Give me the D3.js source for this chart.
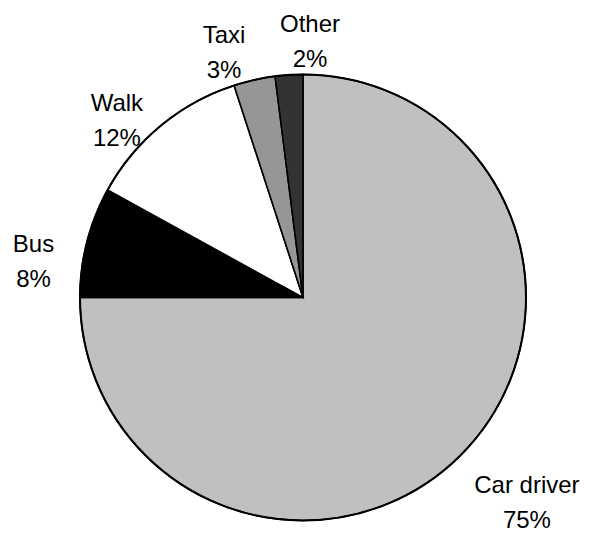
<!DOCTYPE html>
<html>
<head>
<meta charset="utf-8">
<script src="https://cdn.jsdelivr.net/npm/d3@7"></script>
<style>
  html, body { margin: 0; padding: 0; background: #ffffff; }
  svg { display: block; }
  text { font-family: "Liberation Sans", Arial, sans-serif; font-size: 24px; fill: #000; }
</style>
</head>
<body>
<svg id="chart" width="589" height="533"></svg>
<script>
// Mode share, percent of trips
const categories = ["Car driver", "Bus", "Walk", "Taxi", "Other"];
const shares = [75, 8, 12, 3, 2];
const fills = ["#c0c0c0", "#000000", "#ffffff", "#969696", "#333333"];

// Label placement: anchor on a ring outside the pie, then a per-slice nudge
const labelNudge = [[33, 14], [-8, 31], [-14, 31], [-20, 18], [24, 13]];

const width = 589, height = 533;
const cx = 303, cy = 297.5, radius = 223, labelRadius = 270;

const svg = d3.select("#chart");
const g = svg.append("g").attr("transform", `translate(${cx},${cy})`);

const pie = d3.pie().sort(null).value(d => d.value);
const rows = categories.map((c, i) => ({ name: c, value: shares[i], fill: fills[i], nudge: labelNudge[i] }));
const arcs = pie(rows);

const arc = d3.arc().innerRadius(0).outerRadius(radius);
const labelArc = d3.arc().innerRadius(labelRadius).outerRadius(labelRadius);

g.selectAll("path.slice")
  .data(arcs)
  .join("path")
  .attr("class", "slice")
  .attr("d", arc)
  .attr("fill", d => d.data.fill)
  .attr("stroke", "#000")
  .attr("stroke-width", 1.6)
  .attr("stroke-linejoin", "miter");

// Outer rim drawn a touch heavier
g.append("circle")
  .attr("r", radius)
  .attr("fill", "none")
  .attr("stroke", "#000")
  .attr("stroke-width", 2);

const fmt = v => `${v}%`;

const labels = g.selectAll("text.label")
  .data(arcs)
  .join("text")
  .attr("class", "label")
  .attr("text-anchor", "middle")
  .attr("transform", d => {
    const [x, y] = labelArc.centroid(d);
    return `translate(${x + d.data.nudge[0]},${y + d.data.nudge[1]})`;
  });

labels.append("tspan")
  .attr("x", 0)
  .attr("y", -9)
  .text(d => d.data.name);

labels.append("tspan")
  .attr("x", 0)
  .attr("y", 26)
  .text(d => fmt(d.data.value));
</script>
</body>
</html>
